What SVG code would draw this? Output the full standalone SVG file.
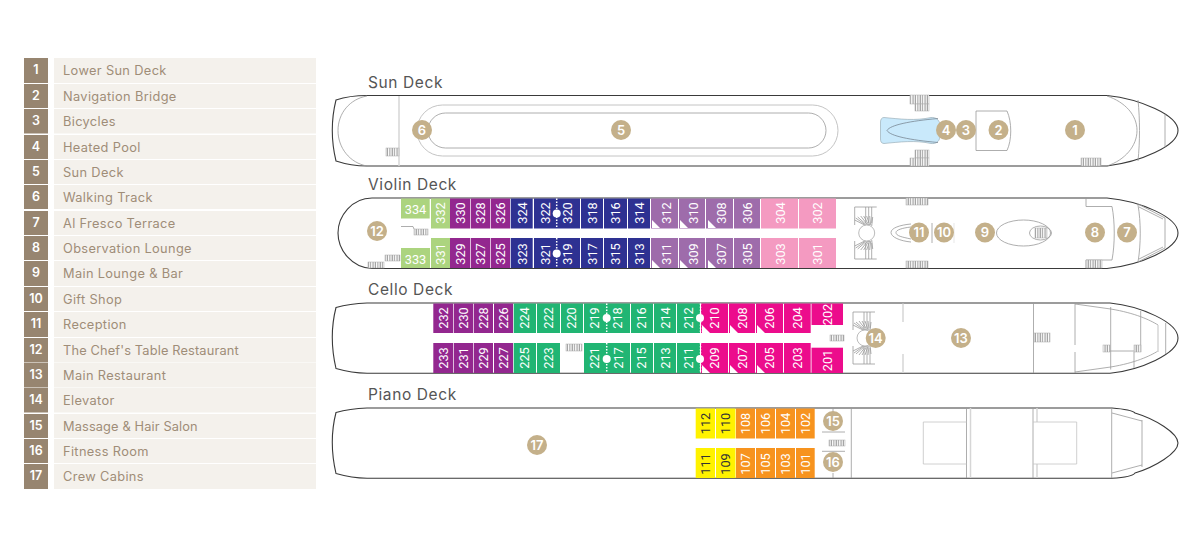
<svg xmlns="http://www.w3.org/2000/svg" width="1200" height="550" viewBox="0 0 1200 550">
<style>
text{font-family:"Inter","Liberation Sans",sans-serif}
.nb{fill:#978570}.lb{fill:#f4f1ec}
.nt{fill:#fff;font-size:12.5px;font-weight:600;text-anchor:middle}
.lt{fill:#9f8d78;font-size:12.8px;letter-spacing:.35px}
.h{fill:#555;font-size:15.5px;font-weight:400;letter-spacing:.6px}
.hull{fill:#fff;stroke:#3a3a3a;stroke-width:1.1}
.l{fill:none;stroke:#999;stroke-width:.8}
.ll{fill:none;stroke:#d6d6d6;stroke-width:1.5}
.st{fill:url(#st);stroke:#aaa;stroke-width:.5}
.c{fill:#c4b08a}
.ct{fill:#fff;font-size:13px;font-weight:600;text-anchor:middle}
.r,.k{font-family:Roboto,"Liberation Sans",sans-serif;font-size:12.8px;text-anchor:middle}
.r{fill:#fff}
.k{fill:#333}
.pu{fill:#93278f}.bl{fill:#2e3192}.gr{fill:#21b573}.lp{fill:#9e6cab}.pk{fill:#f49ac1}.mg{fill:#ec0c8c}.or{fill:#f7931e}.ye{fill:#fff200}.lg{fill:#acd47f}
.dl{stroke:#fff;stroke-width:1.5;stroke-dasharray:1.5 1.5;fill:none}
.w{fill:#fff}
</style>
<defs>
<pattern id="st" patternUnits="userSpaceOnUse" width="2.4" height="10"><rect width="2.4" height="10" fill="#fff"/><line x1="1" y1="0" x2="1" y2="10" stroke="#8f8f8f" stroke-width="1"/></pattern>
<g id="elev">
<path class="l" d="M-12-26H10M-12-26V-8M-1-26V-10M2-26V-10M5-26V-10M-12 26H10M-12 26V8M-1 26V10M2 26V10M5 26V10"/>
<path class="l" d="M-12-13L-2-8M-11-15L-1-8M-9-16L0-8M-6-17L1-8M-3-17L2-8M0-17L3-8M3-17L4-8M6-16L5-7M-12 13L-2 8M-11 15L-1 8M-9 16L0 8M-6 17L1 8M-3 17L2 8M0 17L3 8M3 17L4 8M6 16L5 7"/>
<circle r="8" fill="#fff" stroke="#aaa" stroke-width=".8"/>
</g>
</defs>

<g id="legend">
<rect class="nb" x="24" y="58" width="24" height="25"/><rect class="lb" x="54" y="58" width="262" height="25"/><text class="nt" x="36" y="74">1</text><text class="lt" x="63" y="75">Lower Sun Deck</text>
<rect class="nb" x="24" y="84" width="24" height="24"/><rect class="lb" x="54" y="84" width="262" height="24"/><text class="nt" x="36" y="100">2</text><text class="lt" x="63" y="101">Navigation Bridge</text>
<rect class="nb" x="24" y="109" width="24" height="24.500"/><rect class="lb" x="54" y="109" width="262" height="24.500"/><text class="nt" x="36" y="125">3</text><text class="lt" x="63" y="126">Bicycles</text>
<rect class="nb" x="24" y="135" width="24" height="24"/><rect class="lb" x="54" y="135" width="262" height="24"/><text class="nt" x="36" y="151">4</text><text class="lt" x="63" y="152">Heated Pool</text>
<rect class="nb" x="24" y="160" width="24" height="24"/><rect class="lb" x="54" y="160" width="262" height="24"/><text class="nt" x="36" y="176">5</text><text class="lt" x="63" y="177">Sun Deck</text>
<rect class="nb" x="24" y="185" width="24" height="24"/><rect class="lb" x="54" y="185" width="262" height="24"/><text class="nt" x="36" y="201">6</text><text class="lt" x="63" y="202">Walking Track</text>
<rect class="nb" x="24" y="211" width="24" height="24"/><rect class="lb" x="54" y="211" width="262" height="24"/><text class="nt" x="36" y="227">7</text><text class="lt" x="63" y="228">Al Fresco Terrace</text>
<rect class="nb" x="24" y="236" width="24" height="24"/><rect class="lb" x="54" y="236" width="262" height="24"/><text class="nt" x="36" y="252">8</text><text class="lt" x="63" y="253">Observation Lounge</text>
<rect class="nb" x="24" y="261" width="24" height="25"/><rect class="lb" x="54" y="261" width="262" height="25"/><text class="nt" x="36" y="277">9</text><text class="lt" x="63" y="278">Main Lounge &amp; Bar</text>
<rect class="nb" x="24" y="287" width="24" height="24"/><rect class="lb" x="54" y="287" width="262" height="24"/><text class="nt" x="36" y="303">10</text><text class="lt" x="63" y="304">Gift Shop</text>
<rect class="nb" x="24" y="312" width="24" height="25"/><rect class="lb" x="54" y="312" width="262" height="25"/><text class="nt" x="36" y="328">11</text><text class="lt" x="63" y="329">Reception</text>
<rect class="nb" x="24" y="338" width="24" height="24.500"/><rect class="lb" x="54" y="338" width="262" height="24.500"/><text class="nt" x="36" y="354">12</text><text class="lt" x="63" y="355" textLength="176">The Chef's Table Restaurant</text>
<rect class="nb" x="24" y="363" width="24" height="24.500"/><rect class="lb" x="54" y="363" width="262" height="24.500"/><text class="nt" x="36" y="379">13</text><text class="lt" x="63" y="380">Main Restaurant</text>
<rect class="nb" x="24" y="388" width="24" height="24.500"/><rect class="lb" x="54" y="388" width="262" height="24.500"/><text class="nt" x="36" y="404">14</text><text class="lt" x="63" y="405">Elevator</text>
<rect class="nb" x="24" y="414" width="24" height="24"/><rect class="lb" x="54" y="414" width="262" height="24"/><text class="nt" x="36" y="430">15</text><text class="lt" x="63" y="431" textLength="135">Massage &amp; Hair Salon</text>
<rect class="nb" x="24" y="439" width="24" height="24"/><rect class="lb" x="54" y="439" width="262" height="24"/><text class="nt" x="36" y="455">16</text><text class="lt" x="63" y="456">Fitness Room</text>
<rect class="nb" x="24" y="464" width="24" height="25"/><rect class="lb" x="54" y="464" width="262" height="25"/><text class="nt" x="36" y="480">17</text><text class="lt" x="63" y="481">Crew Cabins</text>
</g>

<g id="sun-deck">
<text class="h" x="368" y="88">Sun Deck</text>
<path class="hull" d="M367 95.500H1107C1140 99 1178 115 1178 130.500C1178 146 1140 162 1107 166H367C355 166 345 164 336 161C331 140 331 120 336 100C345 97 355 95.500 367 95.500Z"/>
<path class="l" d="M367 96C350 99 338 113 338 130.500C338 148 350 163 367 166M1107 96C1125 102 1137 115 1137 130.500C1137 146 1125 160 1107 166M1138 100C1140 120 1140 141 1138 161M1165 114V147"/>
<path class="ll" d="M399 96V166"/>
<rect class="st" x="386" y="148" width="13" height="8"/>
<rect x="417" y="105" width="421" height="51" rx="25.500" fill="none" stroke="#b5b5b5" stroke-width=".8"/>
<rect x="428" y="113" width="398" height="35" rx="17.500" class="l"/>
<path d="M884 117.500C900 119 915 121 931 117.500C936 117 939 120 940 124V137C939 142 936 144 931 143.500C915 140 900 142 884 143.500C881 143.500 880.500 141 880.500 139V122C880.500 119 882 117.500 884 117.500Z" fill="#c9e9fb" stroke="#8fa3ad" stroke-width=".6"/>
<path d="M887 130.500C890 125 910 121 938 118.500M887 130.500C890 136 910 140 938 142.500" fill="none" stroke="#6f7a85" stroke-width=".7"/>
<rect class="st" x="910" y="95" width="19" height="9"/><rect class="st" x="915" y="104" width="14" height="7"/>
<rect class="st" x="915" y="150" width="14" height="8"/><rect class="st" x="910" y="158" width="19" height="8"/>
<path class="l" d="M1007 111H976V150.500H1007C1012 140 1012 122 1007 111"/>
<rect class="st" x="1081" y="158" width="20" height="8"/>
<circle class="c" cx="422" cy="130" r="10"/><text class="ct" x="422" y="134.500">6</text>
<circle class="c" cx="621" cy="130" r="10"/><text class="ct" x="621" y="134.500">5</text>
<circle class="c" cx="946" cy="130" r="10"/><text class="ct" x="946" y="134.500">4</text>
<circle class="c" cx="966" cy="130" r="10"/><text class="ct" x="966" y="134.500">3</text>
<circle class="c" cx="998.500" cy="130" r="10"/><text class="ct" x="998.500" y="134.500">2</text>
<circle class="c" cx="1075" cy="130" r="10"/><text class="ct" x="1075" y="134.500">1</text>
</g>

<g id="violin-deck">
<text class="h" x="368" y="190">Violin Deck</text>
<path class="hull" d="M372 198H1107C1140 201 1178 217 1178 233C1178 249 1140 265 1107 268.500H372C352 268 338 250 338 233C338 216 352 198 372 198Z"/>
<g>
<rect class="lg" x="401" y="198.500" width="28.700" height="20"/><text class="r" x="415.500" y="213.500">334</text>
<rect class="lg" x="431" y="198.500" width="19" height="30"/><text class="r" transform="rotate(-90 440.500 213)" x="440.500" y="217.500">332</text>
<rect class="lg" x="401" y="248" width="29" height="20"/><text class="r" x="415.500" y="263.500">333</text>
<rect class="lg" x="431" y="238" width="19" height="30"/><text class="r" transform="rotate(-90 440.500 254)" x="440.500" y="258.500">331</text>
<rect class="pu" x="450" y="198.500" width="20" height="30"/><text class="r" transform="rotate(-90 460 213)" x="460" y="217.500">330</text>
<rect class="pu" x="470.700" y="198.500" width="19.600" height="30"/><text class="r" transform="rotate(-90 480 213)" x="480" y="217.500">328</text>
<rect class="pu" x="491" y="198.500" width="19" height="30"/><text class="r" transform="rotate(-90 500 213)" x="500" y="217.500">326</text>
<rect class="bl" x="510.700" y="198.500" width="22" height="30"/><text class="r" transform="rotate(-90 522 213)" x="522" y="217.500">324</text>
<rect class="bl" x="534" y="198.500" width="46" height="30"/><text class="r" transform="rotate(-90 545 213)" x="545" y="217.500">322</text><text class="r" transform="rotate(-90 567.500 213)" x="567.500" y="217.500">320</text>
<rect class="bl" x="581" y="198.500" width="22" height="30"/><text class="r" transform="rotate(-90 592 213)" x="592" y="217.500">318</text>
<rect class="bl" x="604" y="198.500" width="23" height="30"/><text class="r" transform="rotate(-90 615.500 213)" x="615.500" y="217.500">316</text>
<rect class="bl" x="628" y="198.500" width="22" height="30"/><text class="r" transform="rotate(-90 639.500 213)" x="639.500" y="217.500">314</text>
<rect class="lp" x="651" y="198.500" width="27" height="30"/><text class="r" transform="rotate(-90 666.500 213)" x="666.500" y="217.500">312</text>
<rect class="lp" x="679" y="198.500" width="26" height="30"/><text class="r" transform="rotate(-90 693 213)" x="693" y="217.500">310</text>
<rect class="lp" x="706" y="198.500" width="27" height="30"/><text class="r" transform="rotate(-90 721 213)" x="721" y="217.500">308</text>
<rect class="lp" x="734" y="198.500" width="26" height="30"/><text class="r" transform="rotate(-90 747 213)" x="747" y="217.500">306</text>
<rect class="pk" x="761" y="198.500" width="37" height="30"/><text class="r" transform="rotate(-90 780 213)" x="780" y="217.500">304</text>
<rect class="pk" x="799" y="198.500" width="37" height="30"/><text class="r" transform="rotate(-90 817 213)" x="817" y="217.500">302</text>
<rect class="pu" x="450" y="238" width="20" height="30"/><text class="r" transform="rotate(-90 460 254)" x="460" y="258.500">329</text>
<rect class="pu" x="470.700" y="238" width="19.600" height="30"/><text class="r" transform="rotate(-90 480 254)" x="480" y="258.500">327</text>
<rect class="pu" x="491" y="238" width="19" height="30"/><text class="r" transform="rotate(-90 500 254)" x="500" y="258.500">325</text>
<rect class="bl" x="510.700" y="238" width="22" height="30"/><text class="r" transform="rotate(-90 522 254)" x="522" y="258.500">323</text>
<rect class="bl" x="534" y="238" width="46" height="30"/><text class="r" transform="rotate(-90 545 254)" x="545" y="258.500">321</text><text class="r" transform="rotate(-90 567.500 254)" x="567.500" y="258.500">319</text>
<rect class="bl" x="581" y="238" width="22" height="30"/><text class="r" transform="rotate(-90 592 254)" x="592" y="258.500">317</text>
<rect class="bl" x="604" y="238" width="23" height="30"/><text class="r" transform="rotate(-90 615.500 254)" x="615.500" y="258.500">315</text>
<rect class="bl" x="628" y="238" width="22" height="30"/><text class="r" transform="rotate(-90 639.500 254)" x="639.500" y="258.500">313</text>
<rect class="lp" x="651" y="238" width="27" height="30"/><text class="r" transform="rotate(-90 666.500 254)" x="666.500" y="258.500">311</text>
<rect class="lp" x="679" y="238" width="26" height="30"/><text class="r" transform="rotate(-90 693 254)" x="693" y="258.500">309</text>
<rect class="lp" x="706" y="238" width="27" height="30"/><text class="r" transform="rotate(-90 721 254)" x="721" y="258.500">307</text>
<rect class="lp" x="734" y="238" width="26" height="30"/><text class="r" transform="rotate(-90 747 254)" x="747" y="258.500">305</text>
<rect class="pk" x="761" y="238" width="37" height="30"/><text class="r" transform="rotate(-90 780 254)" x="780" y="258.500">303</text>
<rect class="pk" x="799" y="238" width="37" height="30"/><text class="r" transform="rotate(-90 817 254)" x="817" y="258.500">301</text>
</g>
<path class="w" d="M652 220V228H660ZM680 220V228H688ZM708 220V228H716ZM652 260V268H660ZM680 260V268H688ZM708 260V268H716Z"/>
<path class="dl" d="M556.700 198.500V228.500M556.700 238V268"/>
<circle class="w" cx="556.700" cy="213.500" r="4"/><circle class="w" cx="556.700" cy="253.500" r="4"/>
<rect class="st" x="368" y="262" width="16" height="6"/><rect class="st" x="385" y="255" width="15" height="6"/><rect class="st" x="414" y="229" width="14" height="6"/>
<path class="l" d="M401 226.500H413L414 229"/>
<use href="#elev" x="866.700" y="233"/>
<rect class="st" x="906" y="198" width="22" height="7"/><rect class="st" x="906" y="261" width="22" height="7"/>
<path class="l" d="M911 224C900 225 891 228 891 232.500C891 237 900 241 911 242M911 227C902 228 896 230 896 232.500C896 236 902 237 911 239M932 223V243"/>
<path class="ll" style="stroke-width:.6" d="M954 223V243"/>
<ellipse class="l" cx="1023.500" cy="233" rx="27" ry="13"/><ellipse class="l" cx="1040.500" cy="233" rx="11" ry="7"/>
<rect class="st" x="1035" y="228" width="12" height="10"/>
<path class="l" d="M1086 198V206.500H1112C1115 222 1115 244 1112 260H1086V268M1138 205C1141 222 1141 244 1138 262M1138 204L1165 218M1139 207L1163 219M1138 262L1165 248M1139 259L1163 247M1165 218V248"/>
<rect class="st" x="1086" y="260" width="16" height="8"/>
<circle class="c" cx="377" cy="231" r="10"/><text class="ct" x="377" y="235.500">12</text>
<circle class="c" cx="919" cy="232.500" r="10"/><text class="ct" x="919" y="237">11</text>
<circle class="c" cx="944" cy="232.500" r="10"/><text class="ct" x="944" y="237">10</text>
<circle class="c" cx="985" cy="232.500" r="10"/><text class="ct" x="985" y="237">9</text>
<circle class="c" cx="1095" cy="232.500" r="10"/><text class="ct" x="1095" y="237">8</text>
<circle class="c" cx="1127" cy="232.500" r="10"/><text class="ct" x="1127" y="237">7</text>
</g>

<g id="cello-deck">
<text class="h" x="368" y="295">Cello Deck</text>
<path class="hull" d="M367 303H1110C1140 306 1178 322 1178 338C1178 354 1140 370 1110 373.300H367C355 373 345 371 336 368.500C331 347 331 327 336 307.500C345 305 355 303.500 367 303Z"/>
<g>
<rect class="pu" x="433.300" y="303.500" width="20" height="29.500"/><text class="r" transform="rotate(-90 443 318)" x="443" y="322.500">232</text>
<rect class="pu" x="454" y="303.500" width="19" height="29.500"/><text class="r" transform="rotate(-90 463 318)" x="463" y="322.500">230</text>
<rect class="pu" x="473.700" y="303.500" width="19.300" height="29.500"/><text class="r" transform="rotate(-90 483 318)" x="483" y="322.500">228</text>
<rect class="pu" x="494" y="303.500" width="19" height="29.500"/><text class="r" transform="rotate(-90 503 318)" x="503" y="322.500">226</text>
<rect class="gr" x="513.700" y="303.500" width="22.300" height="29.500"/><text class="r" transform="rotate(-90 524.500 318)" x="524.500" y="322.500">224</text>
<rect class="gr" x="537" y="303.500" width="23" height="29.500"/><text class="r" transform="rotate(-90 548 318)" x="548" y="322.500">222</text>
<rect class="gr" x="561" y="303.500" width="22" height="29.500"/><text class="r" transform="rotate(-90 571.500 318)" x="571.500" y="322.500">220</text>
<rect class="gr" x="584" y="303.500" width="46" height="29.500"/><text class="r" transform="rotate(-90 594.500 318)" x="594.500" y="322.500">219</text><text class="r" transform="rotate(-90 617.500 318)" x="617.500" y="322.500">218</text>
<rect class="gr" x="631" y="303.500" width="22" height="29.500"/><text class="r" transform="rotate(-90 641.500 318)" x="641.500" y="322.500">216</text>
<rect class="gr" x="654" y="303.500" width="22" height="29.500"/><text class="r" transform="rotate(-90 665 318)" x="665" y="322.500">214</text>
<rect class="gr" x="677" y="303.500" width="23" height="29.500"/><text class="r" transform="rotate(-90 688 318)" x="688" y="322.500">212</text>
<rect class="mg" x="701" y="303.500" width="27" height="29.500"/><text class="r" transform="rotate(-90 714.500 318)" x="714.500" y="322.500">210</text>
<rect class="mg" x="729" y="303.500" width="26" height="29.500"/><text class="r" transform="rotate(-90 742 318)" x="742" y="322.500">208</text>
<rect class="mg" x="756" y="303.500" width="27" height="29.500"/><text class="r" transform="rotate(-90 769.500 318)" x="769.500" y="322.500">206</text>
<rect class="mg" x="784" y="303.500" width="26.700" height="29.500"/><text class="r" transform="rotate(-90 797 318)" x="797" y="322.500">204</text>
<rect class="mg" x="811.500" y="303.500" width="31.500" height="21.500"/><text class="r" transform="rotate(-90 827 314.500)" x="827" y="319">202</text>
<rect class="pu" x="433.300" y="343" width="20" height="30"/><text class="r" transform="rotate(-90 443 358)" x="443" y="362.500">233</text>
<rect class="pu" x="454" y="343" width="19" height="30"/><text class="r" transform="rotate(-90 463 358)" x="463" y="362.500">231</text>
<rect class="pu" x="473.700" y="343" width="19.300" height="30"/><text class="r" transform="rotate(-90 483 358)" x="483" y="362.500">229</text>
<rect class="pu" x="494" y="343" width="19" height="30"/><text class="r" transform="rotate(-90 503 358)" x="503" y="362.500">227</text>
<rect class="gr" x="513.700" y="343" width="22.300" height="30"/><text class="r" transform="rotate(-90 524.500 358)" x="524.500" y="362.500">225</text>
<rect class="gr" x="537" y="343" width="23" height="30"/><text class="r" transform="rotate(-90 548 358)" x="548" y="362.500">223</text>
<rect class="gr" x="584" y="343" width="46" height="30"/><text class="r" transform="rotate(-90 594.500 358)" x="594.500" y="362.500">221</text><text class="r" transform="rotate(-90 618 358)" x="618" y="362.500">217</text>
<rect class="gr" x="631" y="343" width="22" height="30"/><text class="r" transform="rotate(-90 641.500 358)" x="641.500" y="362.500">215</text>
<rect class="gr" x="654" y="343" width="22" height="30"/><text class="r" transform="rotate(-90 665 358)" x="665" y="362.500">213</text>
<rect class="gr" x="677" y="343" width="23" height="30"/><text class="r" transform="rotate(-90 688 358)" x="688" y="362.500">211</text>
<rect class="mg" x="701" y="343" width="27" height="30"/><text class="r" transform="rotate(-90 714.500 358)" x="714.500" y="362.500">209</text>
<rect class="mg" x="729" y="343" width="26" height="30"/><text class="r" transform="rotate(-90 742 358)" x="742" y="362.500">207</text>
<rect class="mg" x="756" y="343" width="27" height="30"/><text class="r" transform="rotate(-90 769.500 358)" x="769.500" y="362.500">205</text>
<rect class="mg" x="784" y="343" width="26.700" height="30"/><text class="r" transform="rotate(-90 797 358)" x="797" y="362.500">203</text>
<rect class="mg" x="811.500" y="347.700" width="31.500" height="25.300"/><text class="r" transform="rotate(-90 827 360.500)" x="827" y="365">201</text>
</g>
<path class="w" d="M702 325V333H710ZM730 325V333H738ZM757 325V333H765ZM702 365V373H710ZM730 365V373H738ZM757 365V373H765Z"/>
<path class="dl" d="M606.700 303.500V333M606.700 343V373M700.500 303.500V333M700.500 343V373"/>
<circle class="w" cx="606.700" cy="318" r="4"/><circle class="w" cx="606.700" cy="359" r="4"/>
<circle class="w" cx="700" cy="318" r="4"/><circle class="w" cx="700" cy="359" r="4"/>
<rect class="st" x="566" y="344" width="16" height="7"/>
<rect class="st" x="830" y="335" width="14" height="6"/>
<use href="#elev" x="865" y="338"/>
<path class="ll" d="M903 303.500V322M903 354V373"/>
<path class="l" d="M1033.500 303.500V373M1075 303.500V345M1075 352V373M1110.700 307V369.500M1140.700 311V352M1134 352V368M1110 351H1134M1075 304L1110.700 309C1135 313 1150 320 1158 325M1075 372L1110.700 367C1135 363 1150 356 1158 351M1165.700 323V354"/>
<path class="ll" d="M1158 325V352"/>
<rect class="st" x="1034" y="333" width="16" height="9"/>
<rect class="st" x="1103" y="345" width="7" height="7"/><rect class="st" x="1134" y="345" width="7" height="7"/>
<circle class="c" cx="875.700" cy="338" r="10"/><text class="ct" x="875.700" y="342.500">14</text>
<circle class="c" cx="961" cy="338" r="10"/><text class="ct" x="961" y="342.500">13</text>
</g>

<g id="piano-deck">
<text class="h" x="368" y="400">Piano Deck</text>
<path class="hull" d="M367 408H1112C1125 409 1133 411 1135 413C1155 419 1178 433 1178 443C1178 453 1155 467 1135 473C1133 476 1125 477.500 1112 478.300H367C355 478 345 476 336 473.500C331 452 331 432 336 412.500C345 410 355 408.500 367 408Z"/>
<g>
<rect class="ye" x="695.700" y="408.500" width="19.300" height="30"/><text class="k" transform="rotate(-90 705 423.500)" x="705" y="428">112</text>
<rect class="ye" x="716" y="408.500" width="19.500" height="30"/><text class="k" transform="rotate(-90 725.500 423.500)" x="725.500" y="428">110</text>
<rect class="or" x="736" y="408.500" width="19" height="30"/><text class="r" transform="rotate(-90 745.500 423.500)" x="745.500" y="428">108</text>
<rect class="or" x="756" y="408.500" width="19" height="30"/><text class="r" transform="rotate(-90 765.500 423.500)" x="765.500" y="428">106</text>
<rect class="or" x="776" y="408.500" width="19" height="30"/><text class="r" transform="rotate(-90 785.500 423.500)" x="785.500" y="428">104</text>
<rect class="or" x="796" y="408.500" width="18.700" height="30"/><text class="r" transform="rotate(-90 805.500 423.500)" x="805.500" y="428">102</text>
<rect class="ye" x="695.700" y="448" width="19.300" height="30"/><text class="k" transform="rotate(-90 705 464)" x="705" y="468.500">111</text>
<rect class="ye" x="716" y="448" width="19.500" height="30"/><text class="k" transform="rotate(-90 725.500 464)" x="725.500" y="468.500">109</text>
<rect class="or" x="736" y="448" width="19" height="30"/><text class="r" transform="rotate(-90 745.500 464)" x="745.500" y="468.500">107</text>
<rect class="or" x="756" y="448" width="19" height="30"/><text class="r" transform="rotate(-90 765.500 464)" x="765.500" y="468.500">105</text>
<rect class="or" x="776" y="448" width="19" height="30"/><text class="r" transform="rotate(-90 785.500 464)" x="785.500" y="468.500">103</text>
<rect class="or" x="796" y="448" width="18.700" height="30"/><text class="r" transform="rotate(-90 805.500 464)" x="805.500" y="468.500">101</text>
</g>
<path class="l" d="M851.300 408V478M822 432H845M822 451.300H845M833 408V412M833 473V478"/>
<rect class="st" x="829" y="440" width="16" height="6"/>
<path class="l" d="M966.500 408V478M1033 408V478M1111.700 408V478M1142 420V467M1112 413L1142 421M1112 473L1142 465"/>
<path class="ll" d="M970.500 408V478M1037 408V422M1037 464V478"/>
<path fill="none" stroke="#c4c4c4" stroke-width=".8" d="M966.500 422H923.300V464H966.500M1033 422H1076.700V464H1033"/>
<circle class="c" cx="537" cy="445" r="10"/><text class="ct" x="537" y="449.500">17</text>
<circle class="c" cx="833" cy="421" r="10"/><text class="ct" x="833" y="425.500">15</text>
<circle class="c" cx="833" cy="462" r="10"/><text class="ct" x="833" y="466.500">16</text>
</g>
</svg>
